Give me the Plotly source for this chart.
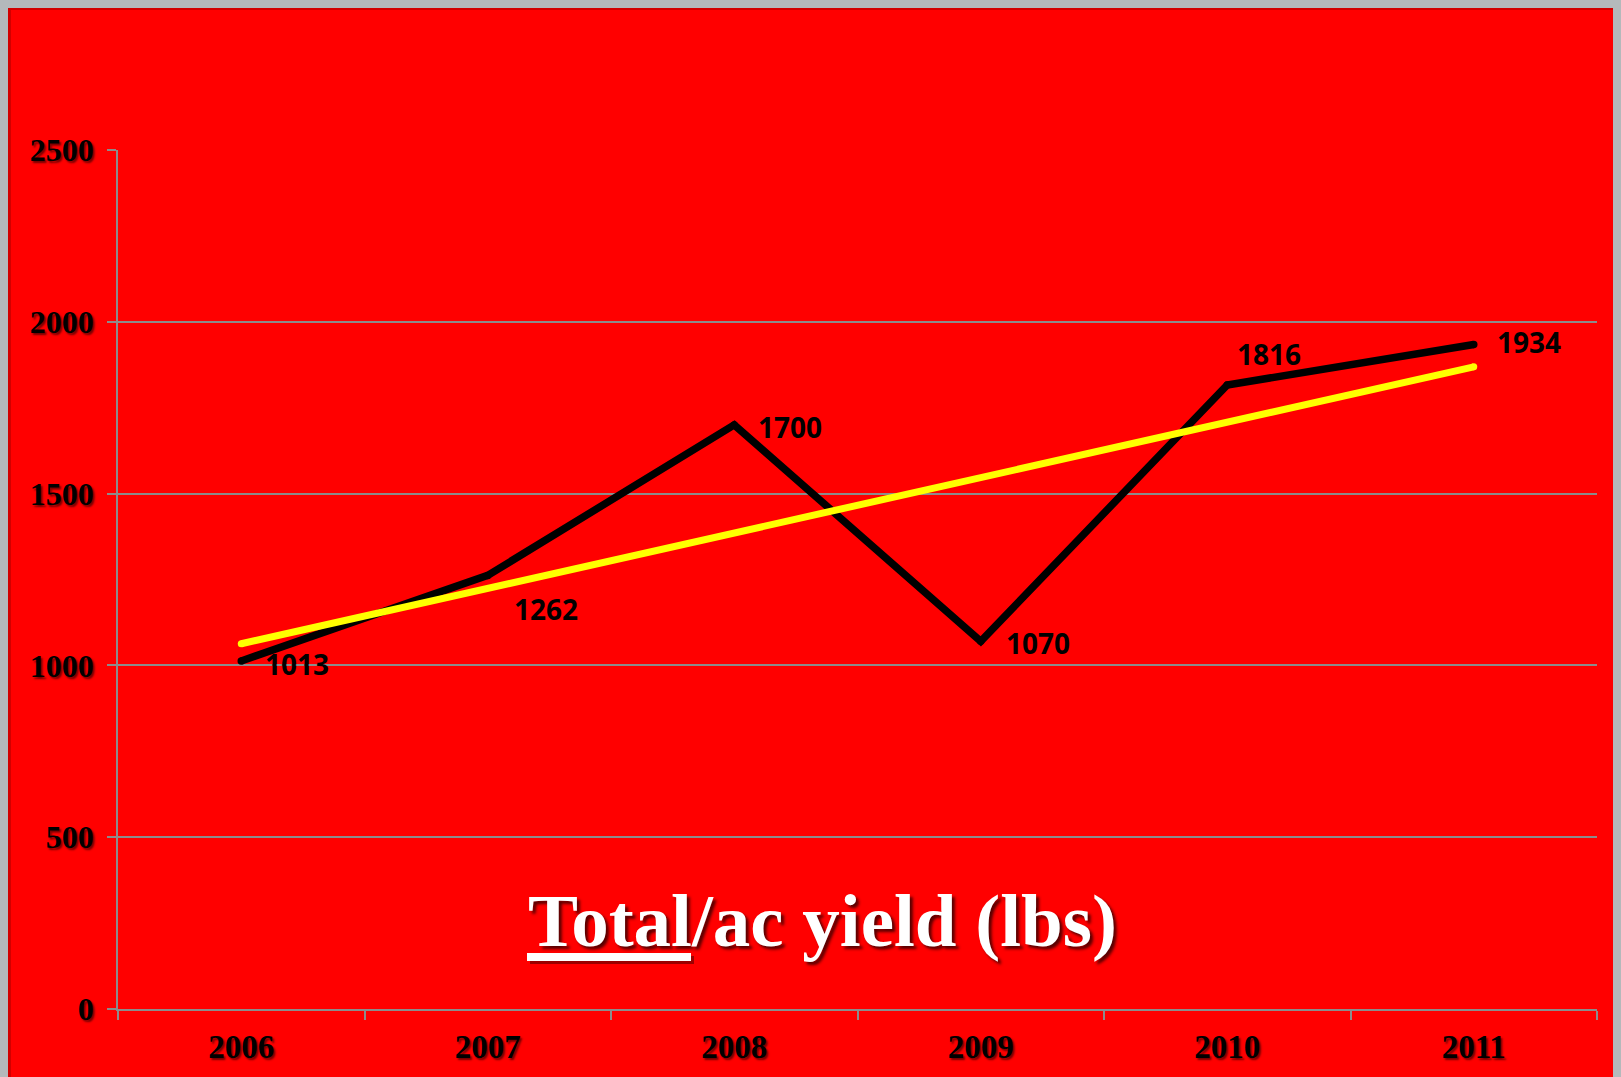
import plotly.graph_objects as go

# ---- data ----
years = ["2006", "2007", "2008", "2009", "2010", "2011"]
yield_lbs = [1013, 1262, 1700, 1070, 1816, 1934]
trend_years = ["2006", "2011"]
trend_lbs = [1063, 1869]
y_ticks = [0, 500, 1000, 1500, 2000, 2500]
title_underlined = "Total"
title_rest = "/ac yield (lbs)"

# label offsets (px) relative to each point
label_dx = [23, 25, 23, 24, 9, 22]
label_dy = [-3, -34, -2, -2, 31, 2]

# ---- layout geometry (page body has an 8px margin) ----
OFF = 8
W, H = 1621 - OFF, 1077 - OFF
ml, mr, mt, mb = 110, 24, 142, 68
pw, ph = W - ml - mr, H - mt - mb


def px(x):  # x in full-window pixels
    return (x - OFF - ml) / pw


def py(y):  # y in full-window pixels
    return (H - mb - (y - OFF)) / ph


GRID = "#8c8c8c"
serif_bold = dict(family="Liberation Serif, Times New Roman, serif", color="black",
                  weight="bold", shadow="2px 2px 2px rgba(90,0,0,0.85)")

fig = go.Figure()
fig.add_trace(go.Scatter(
    x=years, y=yield_lbs, mode="lines+markers",
    line=dict(color="black", width=7.5),
    marker=dict(size=7.5, color="black"),
    hoverinfo="skip", showlegend=False))
fig.add_trace(go.Scatter(
    x=trend_years, y=trend_lbs, mode="lines+markers",
    line=dict(color="#ffff00", width=7),
    marker=dict(size=7, color="#ffff00"),
    hoverinfo="skip", showlegend=False))

annotations = []
for i, (v, dx, dy) in enumerate(zip(yield_lbs, label_dx, label_dy)):
    annotations.append(dict(
        x=i, y=v, xref="x", yref="y", text=str(v), showarrow=False,
        xanchor="left", yanchor="middle", xshift=dx, yshift=dy, borderpad=0,
        font=dict(family="Open Sans, Lato, sans-serif", size=28, color="black", weight="bold")))

annotations.append(dict(
    x=px(527), y=py(920), xref="paper", yref="paper",
    text=title_underlined + title_rest, showarrow=False,
    xanchor="left", yanchor="middle", borderpad=0,
    font=dict(family="Liberation Serif, Times New Roman, serif", size=75, color="white",
              weight="bold", shadow="3px 3px 3px rgba(70,0,0,0.9)")))

shapes = [
    # darker red edge of the panel
    dict(type="rect", xref="paper", yref="paper", layer="below",
         x0=px(9.5), x1=px(1700), y0=py(1200), y1=py(8.5),
         fillcolor="#ff0000", line=dict(color="#d20000", width=3)),
    # underline shadow + underline
    dict(type="rect", xref="paper", yref="paper", layer="above",
         x0=px(530), x1=px(694), y0=py(964), y1=py(956),
         fillcolor="rgba(90,0,0,0.6)", line=dict(width=0)),
    dict(type="rect", xref="paper", yref="paper", layer="above",
         x0=px(527), x1=px(691), y0=py(961), y1=py(953),
         fillcolor="white", line=dict(width=0)),
]

fig.update_layout(
    width=W, height=H,
    margin=dict(l=ml, r=mr, t=mt, b=mb, autoexpand=False),
    paper_bgcolor="#ff0000",
    plot_bgcolor="rgba(0,0,0,0)",
    annotations=annotations,
    shapes=shapes,
    xaxis=dict(type="category", categoryorder="array", categoryarray=years,
               range=[-0.5, 5.5], tickson="boundaries", ticks="outside",
               ticklen=9, tickwidth=1.5, tickcolor=GRID,
               showline=True, linecolor=GRID, linewidth=1.5, showgrid=False,
               tickfont=dict(size=33, **serif_bold), ticklabelstandoff=8,
               fixedrange=True),
    yaxis=dict(range=[0, 2500], tickvals=y_ticks, ticks="outside",
               ticklen=9, tickwidth=1.5, tickcolor=GRID,
               showline=True, linecolor=GRID, linewidth=1.5,
               showgrid=True, gridcolor=GRID, gridwidth=1.5, zeroline=False,
               tickfont=dict(size=32, **serif_bold), ticklabelstandoff=7,
               fixedrange=True),
)

fig.write_html("out.html",
               post_script="document.body.style.background='#b4b9bb';")
